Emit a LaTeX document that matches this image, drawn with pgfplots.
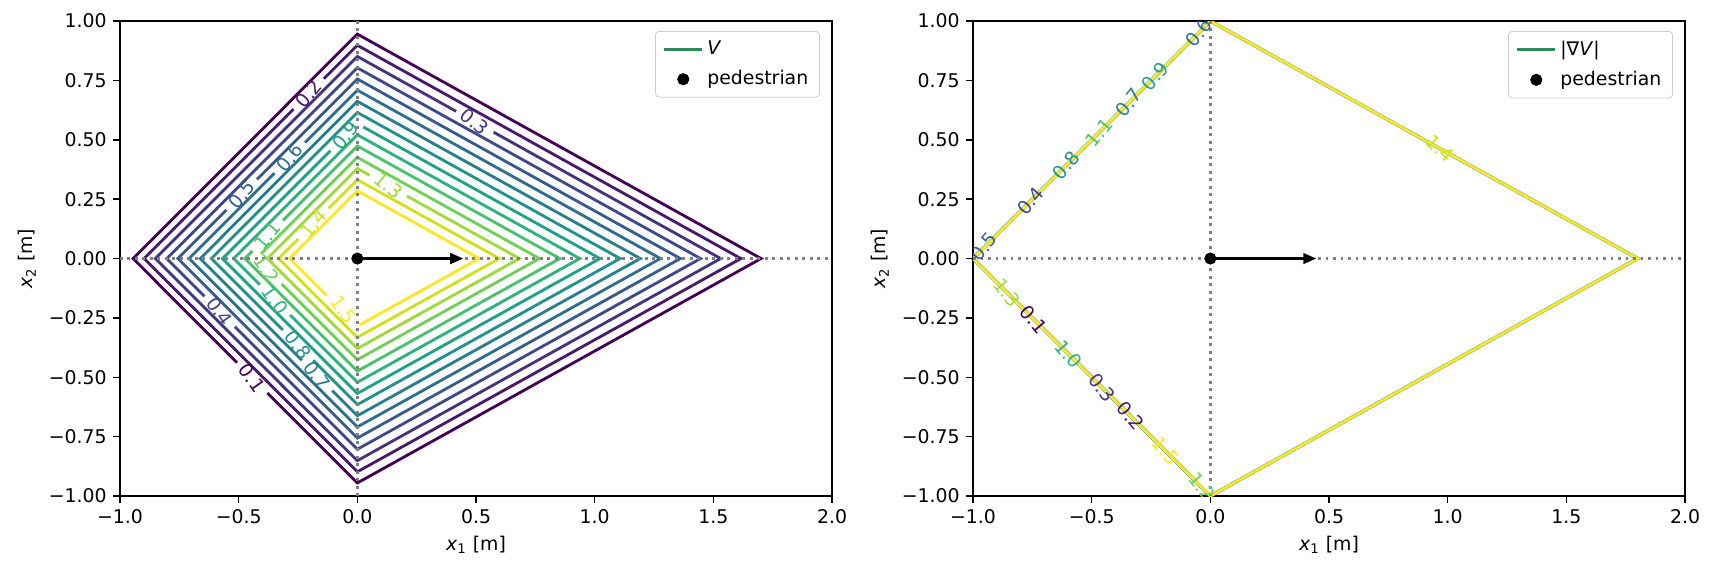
\documentclass[border=0pt]{standalone}
\usepackage{fontspec}
\setmainfont{DejaVu Sans}
\usepackage{pgfplots}
\pgfplotsset{compat=1.18}
\usetikzlibrary{arrows.meta}

% viridis, one colour per contour level 0.1 ... 1.5
\definecolor{c1}{HTML}{440154}
\definecolor{c2}{HTML}{481A6C}
\definecolor{c3}{HTML}{46337F}
\definecolor{c4}{HTML}{3F4889}
\definecolor{c5}{HTML}{375B8D}
\definecolor{c6}{HTML}{2E6E8E}
\definecolor{c7}{HTML}{277F8E}
\definecolor{c8}{HTML}{21918C}
\definecolor{c9}{HTML}{1FA188}
\definecolor{c10}{HTML}{2DB27D}
\definecolor{c11}{HTML}{49C16D}
\definecolor{c12}{HTML}{70CF57}
\definecolor{c13}{HTML}{9FDA3A}
\definecolor{c14}{HTML}{D0E11C}
\definecolor{c15}{HTML}{FDE725}
\definecolor{legendgreen}{HTML}{2E8B57}

\tikzset{clab/.style={inner sep=0pt, font=\fontsize{10}{12}\selectfont}}
\pgfplotsset{
  panel/.style={
    at={(#1,40.3pt)}, anchor=south west,
    scale only axis, width=377.4pt, height=251.75pt,
    xmin=-1, xmax=2, ymin=-1, ymax=1,
    axis line style={black, line width=0.8pt},
    tick style={black, line width=0.8pt},
    major tick length=3.5pt,
    tick align=outside,
    xtick pos=left, ytick pos=left,
    xtick={-1,-0.5,0,0.5,1,1.5,2},
    xticklabels={−1.0,−0.5,0.0,0.5,1.0,1.5,2.0},
    ytick={-1,-0.75,-0.5,-0.25,0,0.25,0.5,0.75,1},
    yticklabels={−1.00,−0.75,−0.50,−0.25,0.00,0.25,0.50,0.75,1.00},
    xlabel={\textit{x}\textsubscript{1} [m]},
    ylabel={\textit{x}\textsubscript{2} [m]},
    legend style={at={(0.983,0.979)}, anchor=north east, draw=black!20,
      rounded corners=2pt, inner xsep=4pt, inner ysep=3pt, row sep=3pt},
    legend cell align=left,
  },
  lvl/.style={color=#1, line width=1.5pt, forget plot},
  guide/.style={gray, line width=1.5pt, dash pattern=on 1.5pt off 2.475pt, forget plot},
}

\begin{document}
\begin{tikzpicture}
\path[use as bounding box] (0,0) rectangle (907.9pt,303.2pt);

% ---------------- left panel: V ----------------
\begin{axis}[panel=63.6pt]
\addlegendimage{legend image code/.code={\draw[legendgreen, line width=1.5pt] (0pt,0pt) -- (20pt,0pt);}}
\addlegendentry{\textit{V}}
\addlegendimage{legend image code/.code={\fill[black] (10pt,0pt) circle (3pt);}}
\addlegendentry{pedestrian}

\addplot[lvl=c1] coordinates {(-0.507,-0.438) (-0.945,0) (0,0.945) (1.701,0) (0,-0.945) (-0.379,-0.566)};
\addplot[lvl=c2] coordinates {(-0.141,0.757) (0,0.898) (1.616,0) (0,-0.898) (-0.898,0) (-0.269,0.629)};
\addplot[lvl=c3] coordinates {(0.574,0.532) (1.531,0) (0,-0.851) (-0.851,0) (0,0.851) (0.416,0.620)};
\addplot[lvl=c4] coordinates {(-0.644,-0.159) (-0.803,0) (0,0.803) (1.446,0) (0,-0.803) (-0.516,-0.287)};
\addplot[lvl=c5] coordinates {(-0.423,0.333) (0,0.756) (1.361,0) (0,-0.756) (-0.756,0) (-0.551,0.205)};
\addplot[lvl=c6] coordinates {(-0.221,0.488) (0,0.709) (1.277,0) (0,-0.709) (-0.709,0) (-0.349,0.360)};
\addplot[lvl=c7] coordinates {(-0.234,-0.428) (-0.662,0) (0,0.662) (1.192,0) (0,-0.662) (-0.106,-0.556)};
\addplot[lvl=c8] coordinates {(-0.314,-0.301) (-0.615,0) (0,0.615) (1.107,0) (0,-0.615) (-0.186,-0.429)};
\addplot[lvl=c9] coordinates {(0.025,0.554) (1.022,0) (0,-0.568) (-0.568,0) (-0.114,0.454)};
\addplot[lvl=c10] coordinates {(-0.411,-0.110) (-0.521,0) (0,0.521) (0.937,0) (0,-0.521) (-0.283,-0.238)};
\addplot[lvl=c11] coordinates {(-0.314,0.160) (0,0.474) (0.853,0) (0,-0.474) (-0.474,0) (-0.442,0.032)};
\addplot[lvl=c12] coordinates {(-0.406,0.020) (0,0.426) (0.767,0) (0,-0.426) (-0.319,-0.107)};
\addplot[lvl=c13] coordinates {(0.209,0.263) (0.683,0) (0,-0.379) (-0.379,0) (0,0.379) (0.051,0.351)};
\addplot[lvl=c14] coordinates {(-0.121,0.211) (0,0.332) (0.598,0) (0,-0.332) (-0.332,0) (-0.249,0.083)};
\addplot[lvl=c15] coordinates {(-0.129,-0.156) (-0.285,0) (0,0.285) (0.513,0) (0.011,-0.279)};

\addplot[guide] coordinates {(-1,0) (2,0)};
\addplot[guide] coordinates {(0,-1) (0,1)};
\addplot[black, line width=1.6pt, -{Triangle[length=7pt,width=5.5pt]}, forget plot] coordinates {(0,0) (0.447,0)};
\addplot[black, only marks, mark=*, mark size=3pt, forget plot] coordinates {(0,0)};

% contour labels
\node[clab, rotate=50, text=c2]  at (axis cs:-0.205,0.693) {0.2};
\node[clab, rotate=50, text=c5]  at (axis cs:-0.487,0.269) {0.5};
\node[clab, rotate=50, text=c6]  at (axis cs:-0.285,0.424) {0.6};
\node[clab, rotate=50, text=c9]  at (axis cs:-0.050,0.518) {0.9};
\node[clab, rotate=50, text=c11] at (axis cs:-0.378,0.096) {1.1};
\node[clab, rotate=50, text=c14] at (axis cs:-0.185,0.147) {1.4};
\node[clab, rotate=-40, text=c3]  at (axis cs:0.495,0.576) {0.3};
\node[clab, rotate=-40, text=c13] at (axis cs:0.130,0.307) {1.3};
\node[clab, rotate=-55, text=c1]  at (axis cs:-0.443,-0.502) {0.1};
\node[clab, rotate=-55, text=c4]  at (axis cs:-0.580,-0.223) {0.4};
\node[clab, rotate=-55, text=c7]  at (axis cs:-0.170,-0.492) {0.7};
\node[clab, rotate=-55, text=c8]  at (axis cs:-0.250,-0.365) {0.8};
\node[clab, rotate=-55, text=c10] at (axis cs:-0.347,-0.174) {1.0};
\node[clab, rotate=-55, text=c12] at (axis cs:-0.383,-0.043) {1.2};
\node[clab, rotate=-55, text=c15] at (axis cs:-0.059,-0.215) {1.5};
\end{axis}

% ---------------- right panel: |grad V| ----------------
\begin{axis}[panel=515.7pt]
\addlegendimage{legend image code/.code={\draw[legendgreen, line width=1.5pt] (0pt,0pt) -- (20pt,0pt);}}
\addlegendentry{|∇\textit{V}|}
\addlegendimage{legend image code/.code={\fill[black] (10pt,0pt) circle (3pt);}}
\addlegendentry{pedestrian}

\addplot[lvl=c8, line width=1.8pt] coordinates {(-1,0) (0,1) (1.8,0) (0,-1) (-1,0)};
\addplot[lvl=c15] coordinates {(-1,0) (0,1) (1.8,0) (0,-1) (-1,0)};

\addplot[guide] coordinates {(-1,0) (2,0)};
\addplot[guide] coordinates {(0,-1) (0,1)};
\addplot[black, line width=1.6pt, -{Triangle[length=7pt,width=5.5pt]}, forget plot] coordinates {(0,0) (0.447,0)};
\addplot[black, only marks, mark=*, mark size=3pt, forget plot] coordinates {(0,0)};

\node[clab, rotate=50, text=c5]  at (axis cs:-0.955,0.050) {0.5};
\node[clab, rotate=50, text=c4]  at (axis cs:-0.758,0.242) {0.4};
\node[clab, rotate=50, text=c8]  at (axis cs:-0.607,0.393) {0.8};
\node[clab, rotate=50, text=c11] at (axis cs:-0.470,0.530) {1.1};
\node[clab, rotate=50, text=c7]  at (axis cs:-0.344,0.656) {0.7};
\node[clab, rotate=50, text=c9]  at (axis cs:-0.232,0.768) {0.9};
\node[clab, rotate=50, text=c6]  at (axis cs:-0.049,0.951) {0.6};
\node[clab, rotate=-50, text=c13] at (axis cs:-0.857,-0.143) {1.3};
\node[clab, rotate=-50, text=c1]  at (axis cs:-0.744,-0.256) {0.1};
\node[clab, rotate=-50, text=c10] at (axis cs:-0.597,-0.403) {1.0};
\node[clab, rotate=-50, text=c3]  at (axis cs:-0.456,-0.544) {0.3};
\node[clab, rotate=-50, text=c2]  at (axis cs:-0.337,-0.663) {0.2};
\node[clab, rotate=-50, text=c15] at (axis cs:-0.190,-0.810) {1.5};
\node[clab, rotate=-50, text=c12] at (axis cs:-0.035,-0.960) {1.2};
\node[clab, rotate=-42, text=c14] at (axis cs:0.969,0.462) {1.4};
\end{axis}
\end{tikzpicture}
\end{document}
